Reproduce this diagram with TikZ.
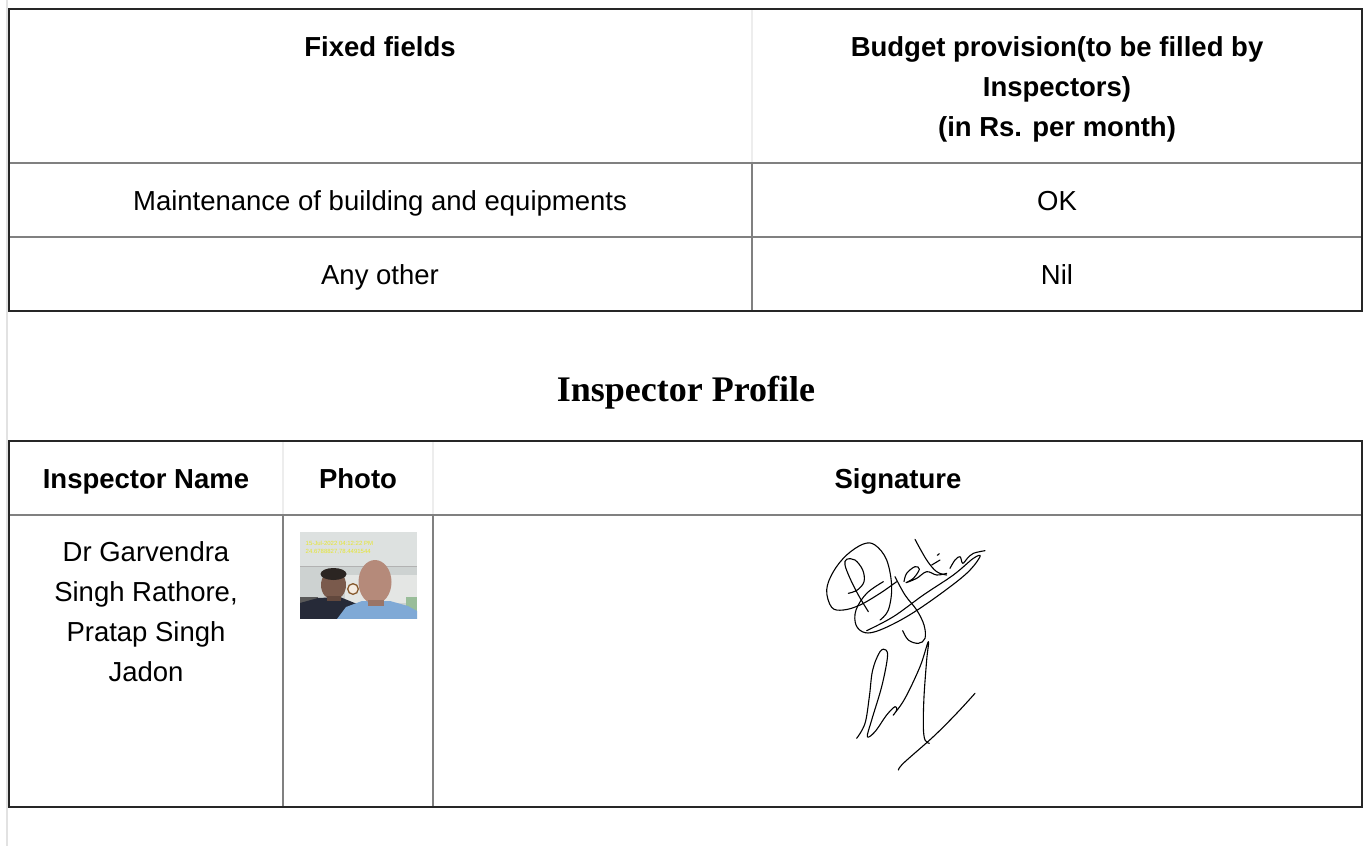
\documentclass[tikz,border=0pt]{standalone}
\usepackage{fontspec}
\setmainfont{Liberation Sans}
\newfontfamily\titlefont{Liberation Serif}
\definecolor{gridgray}{HTML}{808080}
\definecolor{faintgray}{HTML}{EDEDED}
\definecolor{bordergray}{HTML}{262626}
\definecolor{leftgray}{HTML}{E2E2E2}
\definecolor{photobg}{HTML}{CDD2D1}
\definecolor{photoceil}{HTML}{DDE1E0}
\definecolor{photowall}{HTML}{E4E6E4}
\definecolor{shirtdark}{HTML}{262A38}
\definecolor{shirtblue}{HTML}{7FA9D6}
\definecolor{skinA}{HTML}{7A5A4C}
\definecolor{skinB}{HTML}{B58A7A}
\definecolor{hair}{HTML}{2B2522}
\definecolor{stampyellow}{HTML}{E6E62E}
\begin{document}
\begin{tikzpicture}[x=1pt,y=-1pt,
  cell/.style={font=\fontsize{27.5}{40}\selectfont, align=center, anchor=base, inner sep=0pt},
  headcell/.style={cell, font=\bfseries\fontsize{27.5}{40}\selectfont},
  gridline/.style={draw=gridgray, line width=2pt},
  faintline/.style={draw=faintgray, line width=2pt},
  outerline/.style={draw=bordergray, line width=2pt},
  sigstroke/.style={draw=black, line width=1.1pt, line cap=round, line join=round},
  stamp/.style={font=\fontsize{6}{7}\selectfont, text=stampyellow, anchor=base west, inner sep=0pt}
]
\useasboundingbox (0,0) rectangle (1364,846);
\fill[white] (0,0) rectangle (1364,846);
% left page rule
\coordinate (lt) at (7,0);
\coordinate (lb) at (7,846);
\draw[draw=leftgray, line width=1.5pt] (lt) -- (lb);

% ---------- Table 1 ----------
\coordinate (t1nw) at (9,9);
\coordinate (t1se) at (1362,311);
\coordinate (t1c1) at (752,9);
\coordinate (t1c2) at (752,163);
\coordinate (t1c3) at (752,311);
\coordinate (t1h1) at (9,163);
\coordinate (t1h2) at (1362,163);
\coordinate (t1r1) at (9,237);
\coordinate (t1r2) at (1362,237);
\draw[faintline] (t1c1) -- (t1c2);
\draw[gridline] (t1c2) -- (t1c3);
\draw[gridline] (t1h1) -- (t1h2);
\draw[gridline] (t1r1) -- (t1r2);
\draw[outerline] (t1nw) rectangle (t1se);

% multi-line nodes: base anchor is the last line's baseline
\node[headcell] (fixed) at (380,56.7) {Fixed fields};
\node[headcell] (budget) at (1057,136) {Budget provision(to be filled by\\Inspectors)\\(in Rs. per month)};
\node[cell] (maint) at (380,210) {Maintenance of building and equipments};
\node[cell] (ok) at (1057,210) {OK};
\node[cell] (anyother) at (380,284) {Any other};
\node[cell] (nil) at (1057,284) {Nil};

% ---------- Title ----------
\node[anchor=base, inner sep=0pt, font=\titlefont\bfseries\fontsize{36}{40}\selectfont] (title) at (686,401.7) {Inspector Profile};

% ---------- Table 2 ----------
\coordinate (t2nw) at (9,441);
\coordinate (t2se) at (1362,807);
\coordinate (t2a1) at (283,441);
\coordinate (t2a2) at (283,515);
\coordinate (t2a3) at (283,807);
\coordinate (t2b1) at (433,441);
\coordinate (t2b2) at (433,515);
\coordinate (t2b3) at (433,807);
\coordinate (t2h1) at (9,515);
\coordinate (t2h2) at (1362,515);
\draw[faintline] (t2a1) -- (t2a2);
\draw[faintline] (t2b1) -- (t2b2);
\draw[gridline] (t2a2) -- (t2a3);
\draw[gridline] (t2b2) -- (t2b3);
\draw[gridline] (t2h1) -- (t2h2);
\draw[outerline] (t2nw) rectangle (t2se);

\node[headcell] (inspname) at (146,488.3) {Inspector Name};
\node[headcell] (photohead) at (358,488.3) {Photo};
\node[headcell] (sighead) at (898,488.3) {Signature};
\node[cell] (names) at (146,681.7) {Dr Garvendra\\Singh Rathore,\\Pratap Singh\\Jadon};

% ---------- Photo ----------
\node[inner sep=0pt, minimum width=117pt, minimum height=86pt, fill=photobg] (photo) at (358.5,575.3) {};
\begin{scope}
  \clip (photo.north west) rectangle (photo.south east);
  \fill[photoceil] (300,532) rectangle (417,566);
  \fill[photowall] (345,575) rectangle (417,603);
  \draw[gray!60, line width=0.6pt] (300,566) -- (417,566);
  \fill[gray!70!black] (300,597) rectangle (318,603);
  \fill[black!65!green!40] (406,597) rectangle (417,613);
  \draw[draw=brown!70!black, fill=white!85!brown, line width=1.3pt] (353,589) circle[radius=5.3];
  \fill[shirtdark] (300,603) -- (318,598) -- (340,597) -- (362,606) -- (364,619) -- (300,619) -- cycle;
  \fill[skinA] (333.5,585) ellipse[x radius=12.5, y radius=15];
  \fill[hair] (333.5,574) ellipse[x radius=13, y radius=6];
  \fill[skinA!80!black] (327,596) rectangle (341,601);
  \fill[shirtblue] (337,619) -- (346,607) -- (362,601) -- (390,601) -- (408,606) -- (417,611) -- (417,619) -- cycle;
  \fill[skinB] (375,582) ellipse[x radius=16.5, y radius=22];
  \fill[skinB!85!black] (368,600) rectangle (384,606);
  \node[stamp] (stamp1) at (305.5,545.5) {15-Jul-2022 04:12:22 PM};
  \node[stamp] (stamp2) at (305.5,553) {24.6788827,78.4491544};
\end{scope}

% ---------- Signature ----------
\begin{scope}[shift={(780,510)}, scale=1/3]
  \draw[sigstroke] plot[smooth, tension=0.6] coordinates {(265,305) (235,255) (210,205) (195,165) (200,148) (225,150) (248,180) (252,215) (232,240) (205,250)};
  \draw[sigstroke] plot[smooth, tension=0.6] coordinates {(300,330) (325,300) (335,230) (320,150) (285,105) (250,102) (200,135) (160,185) (140,240) (155,292) (190,300) (240,285) (300,250) (350,215)};
  \draw[sigstroke] plot[smooth, tension=0.6] coordinates {(310,215) (260,250) (228,300) (228,345) (255,368) (300,360) (380,320) (470,260) (560,190) (600,140) (580,145) (520,195) (430,255) (340,320) (260,362)};
  \draw[sigstroke] plot[smooth, tension=0.6] coordinates {(345,200) (375,255) (410,300) (432,345) (435,385) (415,400) (385,390) (368,362)};
  \draw[sigstroke] plot[smooth, tension=0.6] coordinates {(372,215) (380,190) (405,170) (418,178) (400,205) (378,218) (410,205) (440,185) (470,195) (500,190)};
  \draw[sigstroke] plot[smooth, tension=0.6] coordinates {(405,88) (440,150) (470,185) (500,195)};
  \draw[sigstroke] (455,165) -- (480,150);
  \draw[sigstroke] (472,136) -- (478,131);
  \draw[sigstroke] plot[smooth, tension=0.6] coordinates {(510,175) (525,150) (540,140) (548,160) (562,145) (580,130) (615,122)};
  \draw[sigstroke] plot[smooth, tension=0.6] coordinates {(230,685) (255,640) (268,560) (278,480) (300,425) (318,420) (322,445) (305,530) (275,630) (262,680) (285,665) (320,615) (345,590) (350,600) (340,615) (375,565) (420,470) (445,395) (440,450) (432,560) (430,650) (435,690) (448,700)};
  \draw[sigstroke] plot[smooth, tension=0.6] coordinates {(355,780) (372,758) (460,680) (530,610) (585,550)};
\end{scope}
\end{tikzpicture}
\end{document}
